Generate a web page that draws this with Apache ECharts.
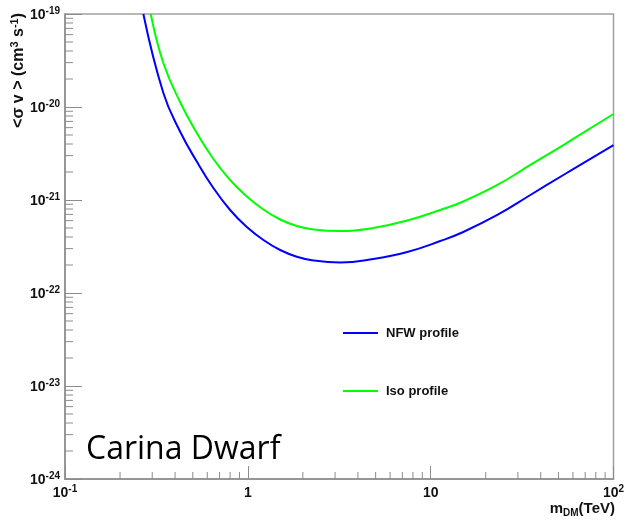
<!DOCTYPE html>
<html>
<head>
<meta charset="utf-8">
<script src="https://cdn.jsdelivr.net/npm/echarts@6/dist/echarts.min.js"></script>
<style>html,body{margin:0;padding:0;background:#fff;}#c{width:626px;height:523px;}</style>
</head>
<body>
<div id="c"></div>
<script>
// ---- data (m_DM in TeV, <σv> in cm^3 s^-1) ----
const nfwMass  = [0.2683, 0.3451, 0.4259, 0.5258, 0.6481, 0.800, 0.9874, 1.217, 1.502, 1.854, 2.287, 3.201, 4.852, 7.446, 11.28, 15.08, 23.15, 35.10, 53.19, 100];
const nfwSigma = [1.0e-19, 1.415e-20, 5.45e-21, 2.59e-21, 1.345e-21, 7.81e-22, 5.12e-22, 3.715e-22, 2.90e-22, 2.457e-22, 2.236e-22, 2.128e-22, 2.32e-22, 2.76e-22, 3.62e-22, 4.53e-22, 6.90e-22, 1.132e-21, 1.857e-21, 3.90e-21];
const isoMass  = [0.2944, 0.3451, 0.4259, 0.5258, 0.6481, 0.800, 0.9874, 1.217, 1.502, 1.854, 2.287, 3.201, 4.852, 7.446, 11.28, 15.08, 23.15, 35.10, 53.19, 100];
const isoSigma = [1.0e-19, 2.972e-20, 1.132e-20, 5.25e-21, 2.76e-21, 1.64e-21, 1.09e-21, 7.90e-22, 6.17e-22, 5.25e-22, 4.82e-22, 4.64e-22, 5.00e-22, 6.02e-22, 7.81e-22, 9.64e-22, 1.45e-21, 2.38e-21, 3.90e-21, 8.41e-21];
const seriesNames = ['NFW profile', 'Iso profile'];
const xTickLabels = ['10^-1', '1', '10', '10^2'];
const yTickLabels = ['10^-24', '10^-23', '10^-22', '10^-21', '10^-20', '10^-19'];
const minorMultipliers = [2, 3, 4, 5, 6, 7, 8, 9];

// y values are handed to the axis in units of 1e-24 (the log scale rounds tiny tick values to 0)
const Y_UNIT = 1e-24;
const X_MIN = 0.1, X_MAX = 100, Y_MIN = 1e-24 / Y_UNIT, Y_MAX = 1e-19 / Y_UNIT;
const axisGray = '#8c8c8c';

function richLabel(txt) {
  if (!txt) return '';
  const parts = txt.split('^');
  if (parts.length === 1) return '{b|' + txt + '}';
  return '{b|' + parts[0] + '}{s|' + parts[1] + '}';
}
const labelRich = {
  b: { fontFamily: 'Liberation Sans', fontWeight: 'bold', fontSize: 14, color: '#111', lineHeight: 16, verticalAlign: 'bottom' },
  s: { fontFamily: 'Liberation Sans', fontWeight: 'bold', fontSize: 10, color: '#111', lineHeight: 12, verticalAlign: 'top', padding: [0, 0, 8, 0] }
};

// minor tick data
const xMinor = [], yMinor = [];
for (let d = -1; d < 2; d++) minorMultipliers.forEach(m => xMinor.push([m * Math.pow(10, d), Y_MIN]));
for (let d = 0; d < 5; d++) minorMultipliers.forEach(m => yMinor.push([X_MIN, m * Math.pow(10, d)]));

const chart = echarts.init(document.getElementById('c'), null, { renderer: 'canvas' });
chart.setOption({
  animation: false,
  backgroundColor: '#fff',
  grid: { left: 65, top: 14, right: 12.5, bottom: 44, outerBoundsMode: 'none', show: true, borderColor: '#a0a0a0', borderWidth: 1.5, backgroundColor: 'transparent' },
  xAxis: {
    type: 'log', logBase: 10, min: X_MIN, max: X_MAX,
    axisLine: { show: true, onZero: false, lineStyle: { color: axisGray, width: 1.5 } },
    axisTick: { show: true, inside: true, length: 13, lineStyle: { color: axisGray, width: 1 } },
    splitLine: { show: false },
    axisLabel: { margin: 5, formatter: (v, i) => richLabel(xTickLabels[i]), rich: labelRich, showMinLabel: true, showMaxLabel: true, hideOverlap: false }
  },
  yAxis: {
    type: 'log', logBase: 10, min: Y_MIN, max: Y_MAX,
    axisLine: { show: true, onZero: false, lineStyle: { color: axisGray, width: 1.5 } },
    axisTick: { show: true, inside: true, length: 17, lineStyle: { color: axisGray, width: 1 } },
    splitLine: { show: false },
    axisLabel: { margin: 5, formatter: (v, i) => richLabel(yTickLabels[i]), rich: labelRich, showMinLabel: true, showMaxLabel: true, hideOverlap: false }
  },
  legend: {
    orient: 'vertical', left: 338, top: 321, itemWidth: 35, itemHeight: 2, itemGap: 44,
    icon: 'rect',
    data: seriesNames,
    textStyle: { fontFamily: 'Liberation Sans', fontWeight: 'bold', fontSize: 13, color: '#111', lineHeight: 14, padding: [0, 0, 0, 3] }
  },
  graphic: [
    { type: 'text', x: 18, y: 13, rotation: Math.PI / 2, silent: true,
      style: { text: '{n|<σ v > (cm}{p|3}{n| s}{p|-1}{n|)}', align: 'right', verticalAlign: 'middle',
        rich: {
          n: { fontFamily: 'Liberation Sans', fontWeight: 'bold', fontSize: 16, fill: '#111', lineHeight: 18, verticalAlign: 'bottom' },
          p: { fontFamily: 'Liberation Sans', fontWeight: 'bold', fontSize: 11, fill: '#111', lineHeight: 12, verticalAlign: 'top', padding: [0, 0, 9, 0] }
        } } },
    { type: 'text', x: 615, y: 510, silent: true,
      style: { text: '{n|m}{d|DM}{n|(TeV)}', align: 'right', verticalAlign: 'middle',
        rich: {
          n: { fontFamily: 'Liberation Sans', fontWeight: 'bold', fontSize: 15, fill: '#111', lineHeight: 17, verticalAlign: 'top' },
          d: { fontFamily: 'Liberation Sans', fontWeight: 'bold', fontSize: 10, fill: '#111', lineHeight: 11, verticalAlign: 'bottom', padding: [7, 0, 0, 0] }
        } } },
    { type: 'text', x: 86, y: 450, silent: true,
      style: { text: 'Carina Dwarf', fontFamily: 'Open Sans', fontSize: 32, fill: '#000', verticalAlign: 'middle', align: 'left' } }
  ],
  series: [
    { name: seriesNames[0], type: 'line', data: nfwMass.map((m, i) => [m, nfwSigma[i] / Y_UNIT]), smooth: 0.45, showSymbol: false, symbol: 'none',
      lineStyle: { color: '#0000ff', width: 2 }, itemStyle: { color: '#0000ff' }, clip: true, z: 3 },
    { name: seriesNames[1], type: 'line', data: isoMass.map((m, i) => [m, isoSigma[i] / Y_UNIT]), smooth: 0.45, showSymbol: false, symbol: 'none',
      lineStyle: { color: '#00ff00', width: 2 }, itemStyle: { color: '#00ff00' }, clip: true, z: 3 },
    { type: 'custom', silent: true, data: xMinor, clip: false, z: 2,
      renderItem: (params, api) => {
        const p = api.coord([api.value(0), api.value(1)]);
        return { type: 'line', shape: { x1: p[0], y1: p[1], x2: p[0], y2: p[1] - 7 }, style: { stroke: axisGray, lineWidth: 1 } };
      } },
    { type: 'custom', silent: true, data: yMinor, clip: false, z: 2,
      renderItem: (params, api) => {
        const p = api.coord([api.value(0), api.value(1)]);
        return { type: 'line', shape: { x1: p[0], y1: p[1], x2: p[0] + 8, y2: p[1] }, style: { stroke: axisGray, lineWidth: 1 } };
      } }
  ]
});
</script>
</body>
</html>
